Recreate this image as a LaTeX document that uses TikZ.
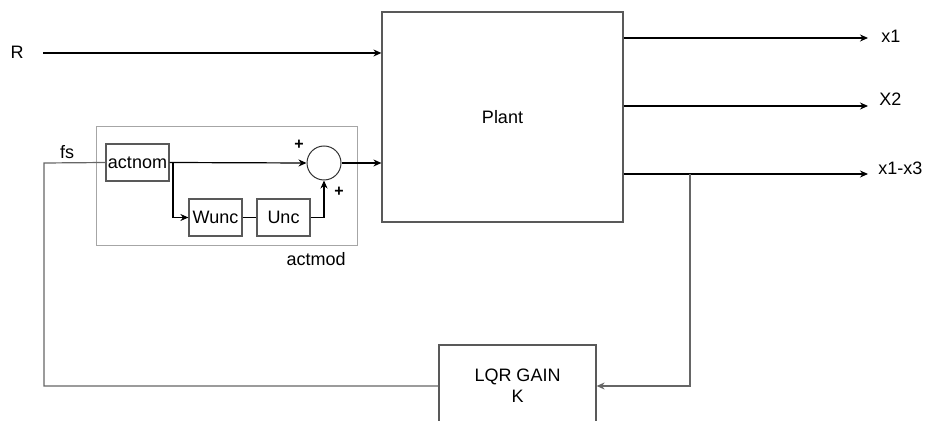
\documentclass[tikz,border=0pt]{standalone}
\usepackage{fontspec}
\setmainfont{Liberation Sans}
\usetikzlibrary{arrows.meta, positioning, calc}

\begin{document}
\begin{tikzpicture}[x=0.5pt, y=-0.5pt, font=\fontsize{9}{10.5}\selectfont,
    block/.style={rectangle, draw=black!65, line width=0.6pt, fill=white, inner sep=0pt, align=center},
    group/.style={rectangle, draw=black!35, line width=0.5pt, inner sep=0pt},
    sumnode/.style={circle, draw=black!80, line width=0.5pt, minimum size=17pt, inner sep=0pt},
    sig/.style={-{Stealth[length=4pt, width=3.5pt]}, line width=0.6pt},
    wire/.style={line width=0.6pt},
    fb/.style={draw=black!60, line width=0.6pt},
    outlbl/.style={anchor=west, inner sep=0pt},
    sign/.style={font=\fontsize{8}{9}\selectfont\bfseries, inner sep=0pt}
]
\useasboundingbox (0,0) rectangle (929,421);

% blocks
\node[group, minimum width=130.5pt, minimum height=59.5pt] (actmod) at (226.5,186.5) {};
\node[anchor=north east, inner sep=0pt] (actmodlbl) at (346,252) {actmod};
\node[block, minimum width=120.5pt, minimum height=105pt] (plant) at (502.5,117) {Plant};
\node[block, minimum width=31.5pt, minimum height=18.5pt] (actnom) at (137.5,162.5) {actnom};
\node[block, minimum width=26.5pt, minimum height=18.5pt] (wunc) at (215.5,217.5) {Wunc};
\node[block, minimum width=26.5pt, minimum height=18.5pt] (unc) at (283.5,217.5) {Unc};
\node[sumnode] (sum) at (324,163) {};
\node[block, minimum width=78.5pt, minimum height=41pt] (lqr) at (517.5,386) {LQR GAIN\\K};

% labels
\node (R) at (17,52) {R};
\node (fs) at (67,152) {fs};
\node[sign] (plus1) at (299,145) {+};
\node[sign] (plus2) at (339,192) {+};

% helper points
\coordinate (rin) at (43,53);
\coordinate (fbl) at (44,163);
\coordinate (br) at (173,163);
\coordinate (tap) at (690,174);
\coordinate (o1) at (868,38);
\coordinate (o2) at (868,106);
\coordinate (o3) at (868,174);

% outputs
\draw[sig] (plant.east |- o1) -- (o1);
\draw[sig] (plant.east |- o2) -- (o2);
\draw[sig] (plant.east |- o3) -- (o3);
\node[outlbl] (x1) at ($(o1)+(13,-2)$) {x1};
\node[outlbl] (x2) at ($(o2)+(11,-7)$) {X2};
\node[outlbl] (x3) at ($(o3)+(10,-6)$) {x1-x3};

% forward path
\draw[sig] (rin) -- (plant.west |- rin);
\draw[sig] (actnom.east) -- (sum.west);
\draw[sig] (sum.east) -- (plant.west |- sum);
\draw[sig] (br) |- (wunc.west);
\draw[wire] (wunc.east) -- (unc.west);
\draw[sig] (unc.east) -| (sum.south);

% feedback
\draw[fb, -{Stealth[length=4pt, width=3.5pt]}] (tap) |- (lqr.east);
\draw[fb] (lqr.west) -| (fbl) -- (actnom.west);
\end{tikzpicture}
\end{document}
